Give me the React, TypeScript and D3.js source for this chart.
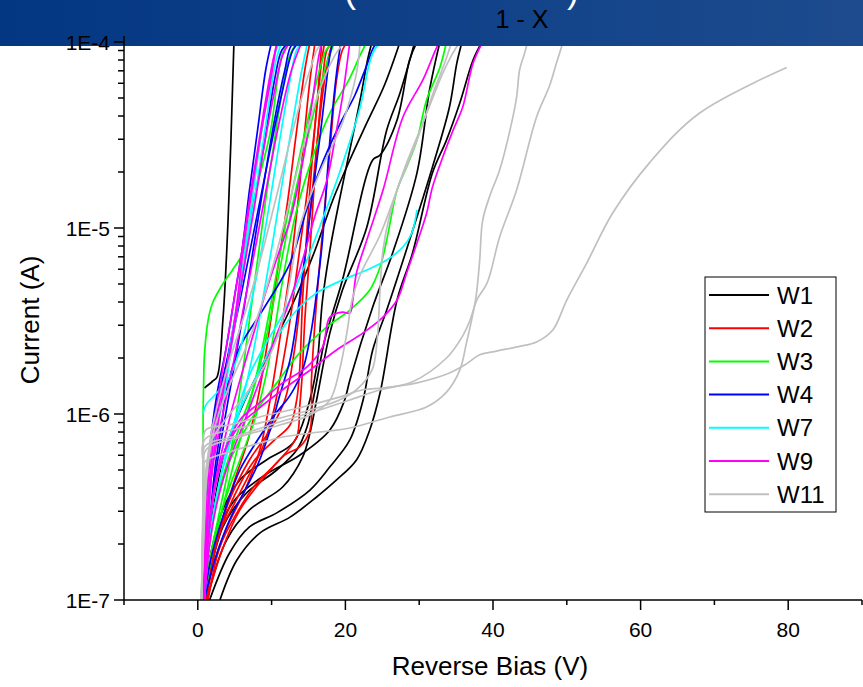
import React from "react";
import * as d3 from "d3";

type Pt = [number, number]; // [reverse bias (V), current (A)]

const waferNames = ["W1", "W2", "W3", "W4", "W7", "W9", "W11"];
const xTickValues = [0, 20, 40, 60, 80];
const yTickValues = [1e-7, 1e-6, 1e-5, 1e-4];
const yTickLabels = ["1E-7", "1E-6", "1E-5", "1E-4"];

// W1
const w1Curves: Pt[][] = [
  [[0.9, 1.38e-6], [2.0, 1.5e-6], [2.6, 1.58e-6], [3.4, 3.2e-6], [4.1, 1.1e-5], [4.9, 1e-4]],
  [[3.0, 1e-7], [5.3, 1.64e-7], [8.4, 2.29e-7], [12.5, 2.79e-7], [16.1, 3.58e-7], [18.8, 4.42e-7], [21.5, 5.66e-7], [23.3, 8.21e-7], [24.7, 1.3e-6], [27.0, 4.1e-6], [29.1, 7.34e-6], [31.8, 1.98e-5], [33.7, 2.97e-5], [35.5, 4.7e-5], [37.3, 8.0e-5], [38.5, 1e-4]],
  [[1.6, 1e-7], [4.3, 1.79e-7], [7.0, 2.47e-7], [10.7, 2.94e-7], [15.2, 3.9e-7], [17.9, 5.2e-7], [20.6, 7.25e-7], [22.4, 1.19e-6], [23.7, 2.21e-6], [25.6, 3.62e-6], [28.7, 8.62e-6], [31.8, 2.13e-5], [34.1, 4.47e-5], [35.1, 7.7e-5], [35.8, 1e-4]],
  [[1.2, 1e-7], [3.9, 2.1e-7], [7.0, 3.05e-7], [11.5, 4.05e-7], [14.2, 5.87e-7], [15.2, 7.91e-7], [16.1, 1.19e-6], [17.9, 2.73e-6], [19.6, 4.64e-6], [22.9, 1.01e-5], [25.6, 3.36e-5], [27.4, 5.32e-5], [29.4, 1e-4]],
  [[0.9, 1e-7], [3.4, 2.47e-7], [6.6, 3.76e-7], [10.7, 5.0e-7], [13.4, 6.4e-7], [14.8, 8.51e-7], [15.9, 1.35e-6], [17.2, 2.5e-6], [19.6, 5.25e-6], [23.7, 2.32e-5], [24.7, 2.47e-5], [27.0, 3.81e-5], [28.7, 8.0e-5], [29.7, 1e-4]],
  [[0.7, 1e-7], [3.0, 2.79e-7], [5.7, 4.42e-7], [9.3, 5.66e-7], [12.9, 6.98e-7], [14.8, 1.05e-6], [16.1, 1.79e-6], [16.9, 4.1e-6], [17.9, 7.62e-6], [19.2, 1.415e-5], [20.6, 2.63e-5], [22.0, 4.88e-5], [23.0, 8.0e-5], [23.6, 1e-4]],
  [[0.7, 1e-7], [2.3, 2.1e-7], [5.0, 3.45e-7], [9.1, 4.7e-7], [13.8, 6.0e-7], [17.9, 8.21e-7], [19.9, 1.19e-6], [20.6, 1.52e-6], [23.7, 3.76e-6], [26.4, 7.34e-6], [29.7, 1.98e-5], [31.4, 5.52e-5], [32.8, 1e-4]],
  [[0.7, 1e-7], [1.9, 2.69e-7], [3.7, 6.4e-7], [6.4, 1.19e-6], [9.8, 2.21e-6], [13.1, 4.1e-6], [15.9, 7.62e-6], [18.3, 1.415e-5], [20.6, 2.32e-5], [22.9, 3.67e-5], [25.3, 5.87e-5], [27.4, 1e-4]],
];

// W2
const w2Curves: Pt[][] = [
  [[0.9, 1e-7], [2.0, 1.93e-7], [4.3, 2.94e-7], [6.6, 4.42e-7], [8.8, 6.65e-7], [10.2, 1.01e-6], [11.1, 1.52e-6], [12.5, 3.2e-6], [13.8, 7.62e-6], [15.2, 2.05e-5], [16.1, 4.31e-5], [16.8, 8.0e-5], [17.2, 1e-4]],
  [[1.4, 1e-7], [3.0, 1.93e-7], [5.3, 2.94e-7], [8.0, 4.26e-7], [10.7, 5.46e-7], [13.4, 7.52e-7], [13.8, 1.09e-6], [14.1, 1.52e-6], [14.5, 3.2e-6], [15.2, 7.62e-6], [16.1, 2.63e-5], [16.8, 5.52e-5], [17.5, 9.06e-5], [18.3, 1e-4]],
  [[1.2, 1e-7], [3.3, 1.86e-7], [5.7, 3.05e-7], [8.7, 4.42e-7], [11.8, 6.03e-7], [13.8, 6.65e-7], [15.2, 8.21e-7], [15.4, 1.52e-6], [15.9, 3.2e-6], [16.8, 8.62e-6], [17.9, 2.63e-5], [18.8, 6.25e-5], [19.6, 9.06e-5], [20.3, 1e-4]],
  [[1.1, 1e-7], [2.3, 1.64e-7], [4.1, 2.53e-7], [6.4, 3.9e-7], [8.4, 6.4e-7], [9.8, 1.19e-6], [11.1, 2.5e-6], [12.5, 5.95e-6], [13.6, 1.415e-5], [14.5, 3.36e-5], [15.2, 6.25e-5], [15.9, 1e-4]],
  [[0.8, 1e-7], [1.9, 1.64e-7], [3.3, 2.69e-7], [5.0, 4.42e-7], [6.8, 7.25e-7], [8.1, 1.19e-6], [9.5, 2.5e-6], [10.8, 5.95e-6], [12.2, 1.415e-5], [13.4, 3.36e-5], [14.5, 7.07e-5], [15.2, 1e-4]],
  [[0.9, 1e-7], [2.3, 1.86e-7], [4.3, 3.45e-7], [7.0, 5.66e-7], [9.8, 8.21e-7], [11.8, 1.19e-6], [13.1, 2.21e-6], [14.2, 5.25e-6], [15.4, 1.415e-5], [16.5, 3.81e-5], [17.6, 8.0e-5], [18.3, 1e-4]],
  [[1.1, 1e-7], [2.7, 2.1e-7], [5.0, 3.67e-7], [7.7, 5.66e-7], [10.4, 7.25e-7], [12.5, 8.73e-7], [13.4, 1.19e-6], [13.8, 1.72e-6], [14.2, 4.1e-6], [14.8, 9.75e-6], [15.6, 2.63e-5], [16.3, 5.52e-5], [16.8, 1e-4]],
];

// W3
const w3Curves: Pt[][] = [
  [[0.5, 1e-7], [0.7, 3.45e-7], [0.72, 1e-6], [0.8, 1.52e-6], [0.9, 2.08e-6], [1.4, 3.2e-6], [2.0, 3.95e-6], [3.3, 4.94e-6], [4.7, 5.95e-6], [6.1, 7.34e-6], [7.0, 1.1e-5], [8.0, 1.66e-5], [9.8, 3.24e-5], [11.5, 8.7e-5], [12.5, 1e-4]],
  [[0.8, 1e-7], [1.6, 2.1e-7], [3.3, 4.42e-7], [5.7, 7.25e-7], [8.0, 1.05e-6], [10.7, 1.47e-6], [13.8, 2.13e-6], [17.5, 2.94e-6], [20.6, 3.62e-6], [23.3, 4.64e-6], [24.7, 6.17e-6], [25.6, 8.62e-6], [27.0, 1.6e-5], [28.3, 2.13e-5], [29.7, 2.97e-5], [31.0, 4.88e-5], [32.8, 7.3e-5], [33.7, 1e-4]],
  [[0.9, 1e-7], [2.0, 1.86e-7], [3.7, 3.45e-7], [5.7, 5.66e-7], [7.7, 9.29e-7], [9.1, 1.52e-6], [10.4, 2.83e-6], [11.5, 5.25e-6], [13.4, 1.25e-5], [15.9, 2.63e-5], [17.9, 4.15e-5], [20.6, 6.4e-5], [22.0, 8.5e-5], [22.9, 1e-4]],
  [[0.8, 1e-7], [1.6, 1.64e-7], [2.7, 2.69e-7], [4.1, 5.0e-7], [5.1, 9.29e-7], [6.1, 1.72e-6], [7.0, 3.2e-6], [8.1, 6.73e-6], [9.2, 1.415e-5], [10.4, 2.97e-5], [11.7, 6.25e-5], [12.5, 8.5e-5], [13.4, 1e-4]],
  [[0.9, 1e-7], [1.9, 1.75e-7], [3.3, 3.05e-7], [5.0, 5.66e-7], [6.8, 1.05e-6], [8.4, 1.95e-6], [10.0, 4.1e-6], [11.5, 8.62e-6], [13.1, 1.81e-5], [14.9, 3.81e-5], [16.5, 7.07e-5], [17.6, 9.3e-5], [19.2, 1e-4]],
  [[0.8, 1e-7], [1.5, 1.86e-7], [2.6, 3.45e-7], [4.1, 5.66e-7], [6.0, 9.29e-7], [7.9, 1.52e-6], [9.5, 2.83e-6], [11.1, 5.95e-6], [12.7, 1.25e-5], [14.5, 2.63e-5], [16.3, 5.19e-5], [17.6, 8.0e-5], [18.6, 1e-4]],
];

// W4
const w4Curves: Pt[][] = [
  [[0.7, 1e-7], [1.4, 2.1e-7], [2.3, 5.0e-7], [3.3, 9.29e-7], [3.9, 1.35e-6], [5.7, 2.29e-6], [8.8, 3.62e-6], [12.5, 6.48e-6], [14.5, 1.17e-5], [16.5, 2.05e-5], [19.2, 3.58e-5], [21.3, 5.19e-5], [22.9, 7.5e-5], [24.0, 9.6e-5], [24.9, 1e-4]],
  [[0.7, 1e-7], [1.2, 2.1e-7], [1.9, 5.0e-7], [2.7, 1.05e-6], [3.7, 1.72e-6], [5.0, 3.2e-6], [6.4, 6.73e-6], [7.7, 1.415e-5], [9.1, 2.97e-5], [10.4, 6.25e-5], [11.4, 9.06e-5], [12.5, 1e-4]],
  [[0.8, 1e-7], [1.5, 2.1e-7], [2.3, 4.42e-7], [3.4, 8.21e-7], [4.6, 1.52e-6], [6.0, 3.2e-6], [7.5, 7.62e-6], [8.8, 1.6e-5], [10.4, 3.81e-5], [11.8, 7.07e-5], [12.7, 9.6e-5], [13.8, 1e-4]],
  [[0.7, 1.64e-7], [1.1, 3.45e-7], [1.8, 7.25e-7], [2.7, 1.19e-6], [4.3, 2.21e-6], [6.0, 4.64e-6], [7.9, 1.1e-5], [9.8, 2.63e-5], [11.5, 5.52e-5], [12.9, 9.06e-5], [13.8, 1e-4]],
  [[0.9, 1e-7], [2.3, 1.64e-7], [4.3, 2.69e-7], [6.4, 3.9e-7], [8.1, 5.32e-7], [9.8, 8.21e-7], [11.1, 1.26e-6], [12.5, 1.95e-6], [13.4, 3.2e-6], [14.1, 5.25e-6], [14.8, 8.62e-6], [15.6, 1.6e-5], [16.5, 2.97e-5], [17.3, 5.52e-5], [17.9, 8.5e-5], [18.3, 1e-4]],
  [[0.8, 1e-7], [1.9, 1.75e-7], [3.7, 3.05e-7], [5.7, 5.0e-7], [8.1, 7.25e-7], [10.4, 9.88e-7], [12.5, 1.26e-6], [14.2, 1.72e-6], [15.4, 2.83e-6], [16.3, 5.25e-6], [16.9, 8.62e-6], [17.9, 2.97e-5], [18.8, 6.8e-5], [19.4, 1e-4]],
  [[0.7, 1e-7], [0.9, 2.38e-7], [1.4, 5.0e-7], [1.9, 8.21e-7], [2.7, 1.35e-6], [3.8, 2.21e-6], [4.9, 4.1e-6], [6.0, 7.62e-6], [7.0, 1.6e-5], [8.1, 3.36e-5], [9.2, 7.07e-5], [10.0, 1e-4]],
];

// W7
const w7Curves: Pt[][] = [
  [[0.8, 1e-7], [1.4, 2.1e-7], [2.3, 3.9e-7], [3.7, 6.4e-7], [5.7, 1.05e-6], [7.7, 1.52e-6], [9.8, 2.21e-6], [11.8, 3.01e-6], [13.8, 3.76e-6], [16.1, 4.48e-6], [19.6, 5.25e-6], [22.9, 5.95e-6], [25.6, 6.73e-6], [27.8, 7.9e-6], [29.0, 9.4e-6], [29.7, 1.25e-5]],
  [[0.8, 1e-7], [1.6, 2.1e-7], [3.0, 4.42e-7], [5.0, 9.29e-7], [7.0, 1.62e-6], [9.1, 2.35e-6], [11.1, 3.2e-6], [13.1, 4.64e-6], [14.9, 6.9e-6], [16.5, 1.01e-5], [19.2, 1.98e-5], [22.0, 4.47e-5], [23.3, 7.8e-5], [24.1, 9.3e-5], [25.3, 1e-4]],
  [[0.7, 1e-6], [1.1, 1.12e-6], [2.6, 1.3e-6], [4.3, 1.58e-6], [5.7, 2.21e-6], [7.0, 3.62e-6], [8.4, 6.73e-6], [9.8, 1.415e-5], [11.1, 2.97e-5], [12.5, 6.25e-5], [13.4, 9.06e-5], [14.2, 1e-4]],
  [[0.8, 1e-7], [1.2, 2.1e-7], [1.8, 4.42e-7], [2.6, 8.21e-7], [3.7, 1.35e-6], [4.7, 2.5e-6], [5.8, 4.64e-6], [7.0, 9.75e-6], [8.3, 2.05e-5], [9.5, 4.31e-5], [10.6, 8.0e-5], [11.4, 1e-4]],
  [[0.7, 1e-7], [1.1, 2.1e-7], [1.6, 4.42e-7], [2.3, 7.25e-7], [3.3, 1.19e-6], [4.3, 2.21e-6], [5.6, 4.64e-6], [6.8, 9.75e-6], [8.1, 2.32e-5], [9.3, 4.88e-5], [10.4, 8.5e-5], [11.1, 1e-4]],
  [[0.9, 1e-7], [1.6, 2.1e-7], [2.7, 3.9e-7], [4.1, 6.4e-7], [5.7, 1.05e-6], [7.3, 1.95e-6], [8.8, 4.1e-6], [10.2, 8.62e-6], [11.5, 1.81e-5], [12.9, 3.81e-5], [14.1, 7.07e-5], [14.9, 1e-4]],
];

// W9
const w9Curves: Pt[][] = [
  [[0.7, 1e-7], [1.1, 2.1e-7], [1.6, 4.42e-7], [2.3, 8.21e-7], [3.3, 1.35e-6], [4.3, 2.13e-6], [5.3, 3.95e-6], [6.1, 7.34e-6], [7.0, 1.3e-5], [8.4, 2.97e-5], [9.8, 6.0e-5], [10.7, 1e-4]],
  [[0.8, 1e-7], [1.4, 2.1e-7], [2.3, 3.9e-7], [3.7, 6.4e-7], [5.7, 9.29e-7], [8.4, 1.15e-6], [11.5, 1.47e-6], [14.8, 1.79e-6], [16.9, 2.29e-6], [17.9, 3.32e-6], [19.6, 3.53e-6], [20.6, 3.49e-6], [21.0, 4.1e-6], [21.5, 5.73e-6], [22.9, 8.62e-6], [25.1, 1.6e-5], [27.8, 3.95e-5], [30.5, 6.25e-5], [32.4, 9.4e-5], [32.8, 1e-4]],
  [[0.8, 1e-7], [1.4, 2.1e-7], [2.2, 3.9e-7], [3.7, 6.4e-7], [5.7, 8.73e-7], [8.0, 1.05e-6], [11.5, 1.35e-6], [15.2, 1.72e-6], [18.8, 2.21e-6], [22.4, 2.73e-6], [25.1, 3.32e-6], [27.0, 4.1e-6], [28.3, 5.73e-6], [29.7, 8.3e-6], [31.0, 1.2e-5], [31.8, 1.66e-5], [33.2, 2.41e-5], [34.6, 3.36e-5], [35.9, 4.47e-5], [37.3, 7.7e-5], [38.6, 1e-4]],
  [[0.9, 1e-7], [1.6, 1.98e-7], [2.7, 3.45e-7], [4.3, 5.66e-7], [6.4, 9.29e-7], [8.4, 1.52e-6], [10.4, 2.5e-6], [12.5, 4.1e-6], [14.2, 6.73e-6], [15.9, 1.17e-5], [17.5, 1.81e-5], [18.8, 3.36e-5], [19.6, 5.06e-5], [20.2, 7.5e-5], [20.6, 1e-4]],
  [[0.7, 1e-7], [0.9, 2.1e-7], [1.4, 4.42e-7], [1.9, 7.25e-7], [2.7, 1.19e-6], [3.8, 2.21e-6], [4.9, 4.1e-6], [6.0, 7.62e-6], [7.0, 1.415e-5], [8.1, 2.63e-5], [9.2, 4.88e-5], [10.2, 8.0e-5], [10.8, 1e-4]],
  [[0.8, 1e-7], [1.2, 2.1e-7], [1.8, 4.42e-7], [2.6, 8.21e-7], [3.7, 1.52e-6], [4.9, 2.83e-6], [6.2, 5.95e-6], [7.6, 1.25e-5], [8.9, 2.63e-5], [10.3, 5.19e-5], [11.5, 8.5e-5], [12.5, 1e-4]],
  [[0.7, 1e-7], [1.1, 2.1e-7], [1.6, 3.9e-7], [2.4, 6.4e-7], [3.5, 1.05e-6], [4.9, 1.95e-6], [6.4, 4.1e-6], [8.0, 8.62e-6], [9.5, 1.81e-5], [11.1, 3.81e-5], [12.7, 7.07e-5], [14.1, 1e-4]],
  [[0.8, 1e-7], [1.4, 2.1e-7], [2.2, 3.9e-7], [3.3, 6.4e-7], [4.6, 1.05e-6], [6.1, 1.72e-6], [7.7, 2.83e-6], [9.3, 4.64e-6], [11.1, 7.62e-6], [12.5, 1.1e-5], [14.2, 2.24e-5], [15.6, 5.06e-5], [16.3, 8.0e-5], [16.8, 1e-4]],
];

// W11
const w11Curves: Pt[][] = [
  [[0.5, 1e-7], [0.7, 2.69e-7], [0.8, 5.66e-7], [1.1, 8.21e-7], [4.3, 8.73e-7], [8.4, 9.64e-7], [13.8, 1.08e-6], [18.8, 1.22e-6], [22.4, 1.35e-6], [25.1, 1.38e-6], [29.7, 1.47e-6], [34.1, 1.66e-6], [36.4, 1.86e-6], [38.2, 2.08e-6], [40.5, 2.18e-6], [43.6, 2.31e-6], [45.9, 2.44e-6], [48.1, 2.83e-6], [50.0, 4.1e-6], [52.7, 6.48e-6], [56.2, 1.2e-5], [61.2, 2.24e-5], [68.0, 4.15e-5], [79.8, 7.3e-5]],
  [[0.5, 1e-7], [0.7, 2.1e-7], [0.8, 4.42e-7], [0.9, 5.52e-7], [4.3, 6.25e-7], [8.4, 6.98e-7], [11.5, 7.52e-7], [16.5, 8.0e-7], [20.6, 8.41e-7], [26.0, 9.64e-7], [31.0, 1.09e-6], [33.7, 1.31e-6], [35.5, 1.72e-6], [36.4, 2.41e-6], [37.1, 3.2e-6], [37.7, 4.26e-6], [38.2, 6.73e-6], [38.6, 1.1e-5], [39.6, 1.5e-5], [40.9, 2.05e-5], [42.3, 3.36e-5], [43.2, 5.06e-5], [43.6, 7.07e-5], [44.2, 8.5e-5], [44.7, 1e-4]],
  [[0.5, 1e-7], [0.7, 2.69e-7], [0.8, 5.0e-7], [0.9, 6.65e-7], [5.7, 7.71e-7], [11.1, 9.06e-7], [16.5, 1.05e-6], [20.6, 1.19e-6], [24.7, 1.35e-6], [29.1, 1.49e-6], [33.7, 2.0e-6], [35.8, 2.59e-6], [36.9, 3.2e-6], [37.8, 4.1e-6], [39.2, 5.06e-6], [40.9, 8.95e-6], [43.2, 1.6e-5], [45.9, 3.95e-5], [47.7, 5.87e-5], [48.6, 7.7e-5], [49.5, 1e-4]],
  [[0.5, 1e-7], [0.7, 2.69e-7], [0.8, 5.0e-7], [0.9, 7.25e-7], [5.7, 8.41e-7], [11.1, 9.51e-7], [15.2, 1.05e-6], [19.2, 1.19e-6], [21.5, 1.35e-6], [23.6, 1.72e-6], [24.3, 2.5e-6], [24.7, 4.64e-6], [25.1, 7.62e-6], [26.0, 1.17e-5], [27.8, 1.98e-5], [30.5, 3.67e-5], [33.2, 6.8e-5], [34.4, 8.5e-5], [35.5, 1e-4]],
  [[0.5, 1e-7], [0.7, 2.1e-7], [0.8, 4.42e-7], [1.1, 6.4e-7], [5.7, 7.52e-7], [11.1, 8.73e-7], [15.2, 9.88e-7], [17.9, 1.19e-6], [19.2, 1.72e-6], [20.2, 2.73e-6], [20.9, 4.1e-6], [22.0, 5.59e-6], [24.7, 9.17e-6], [27.0, 1.6e-5], [29.7, 2.97e-5], [31.8, 5.19e-5], [33.5, 7.8e-5], [34.4, 1e-4]],
  [[0.5, 1e-7], [0.8, 2.1e-7], [1.2, 4.42e-7], [1.9, 7.25e-7], [3.0, 1.05e-6], [4.6, 1.52e-6], [6.4, 2.21e-6], [8.4, 3.62e-6], [10.4, 6.73e-6], [12.5, 1.415e-5], [14.5, 2.97e-5], [16.5, 5.52e-5], [18.6, 8.5e-5], [19.9, 1e-4]],
  [[0.5, 1e-7], [0.8, 2.38e-7], [1.2, 5.0e-7], [1.9, 8.21e-7], [3.0, 1.26e-6], [4.3, 1.95e-6], [6.1, 3.2e-6], [8.1, 5.95e-6], [10.2, 1.25e-5], [12.2, 2.63e-5], [13.8, 4.58e-5], [15.2, 7.07e-5], [16.3, 9.3e-5], [17.2, 1e-4]],
  [[0.5, 1e-7], [0.8, 2.69e-7], [1.1, 5.0e-7], [1.9, 7.25e-7], [3.7, 9.29e-7], [6.4, 1.26e-6], [9.1, 1.83e-6], [11.1, 2.83e-6], [12.5, 5.25e-6], [13.8, 1.01e-5], [16.5, 1.98e-5], [19.6, 3.67e-5], [21.5, 6.8e-5], [22.0, 1e-4]],
];

const seriesData = [w1Curves, w2Curves, w3Curves, w4Curves, w7Curves, w9Curves, w11Curves];
const seriesColors = ["#000000", "#ff0000", "#00ff00", "#0000ff", "#00ffff", "#ff00ff", "#c0c0c0"];

const FONT = "'Liberation Sans', Arial, sans-serif";

export default function App() {
  const width = 863;
  const height = 687;
  const plot = { left: 124, right: 862, top: 42, bottom: 600 };

  const x = d3.scaleLinear().domain([-10, 90]).range([plot.left, plot.right]);
  const y = d3.scaleLog().domain([1e-7, 1e-4]).range([plot.bottom, plot.top]);

  const line = d3
    .line<Pt>()
    .x((d) => x(d[0]))
    .y((d) => y(d[1]))
    .curve(d3.curveCatmullRom.alpha(0.5));

  const yMinor = y.ticks().filter((v) => !yTickValues.some((t) => Math.abs(t - v) / t < 1e-6));
  const xMinor = x.ticks(10).filter((v) => !xTickValues.includes(v));

  const legend = { x: 705, y: 277, w: 131, h: 235, row: 33.2 };

  return (
    <svg
      width={width}
      height={height}
      style={{ position: "absolute", left: 0, top: 0, background: "#fff" }}
      fontFamily={FONT}
    >
      <defs>
        <clipPath id="plotClip">
          <rect x={plot.left} y={plot.top} width={plot.right - plot.left} height={plot.bottom - plot.top} />
        </clipPath>
        <linearGradient id="banner" x1="0" x2="1" y1="0" y2="0">
          <stop offset="0%" stopColor="#033782" />
          <stop offset="100%" stopColor="#1d4b8e" />
        </linearGradient>
      </defs>

      <rect width={width} height={height} fill="#fff" />

      <g clipPath="url(#plotClip)" fill="none">
        {seriesData.map((curves, si) =>
          curves.map((c, ci) => (
            <path key={`${si}-${ci}`} d={line(c) || ""} stroke={seriesColors[si]} strokeWidth={1.7} />
          ))
        )}
      </g>

      {/* slide banner over the top of the plot */}
      <rect x={0} y={0} width={width} height={46} fill="url(#banner)" />
      <text x={350} y={2} fill="#fff" fontSize={36} textAnchor="middle">(</text>
      <text x={573} y={2} fill="#fff" fontSize={36} textAnchor="middle">)</text>
      <text x={522} y={28} fill="#000" fontSize={25} textAnchor="middle">1 - X</text>

      {/* y axis */}
      <g stroke="#000" strokeWidth={1.5}>
        <line x1={plot.left} x2={plot.left} y1={36} y2={plot.bottom} />
        {yTickValues.map((t) => (
          <line key={t} x1={plot.left - 10} x2={plot.left} y1={y(t)} y2={y(t)} />
        ))}
        {yMinor.map((t) => (
          <line key={t} x1={plot.left - 6} x2={plot.left} y1={y(t)} y2={y(t)} />
        ))}
      </g>
      {yTickValues.map((t, i) => (
        <text key={t} x={plot.left - 14} y={y(t)} dy="0.36em" fontSize={21} textAnchor="end" fill="#000">
          {yTickLabels[i]}
        </text>
      ))}

      {/* x axis */}
      <g stroke="#000" strokeWidth={1.5}>
        <line x1={plot.left} x2={plot.right} y1={plot.bottom} y2={plot.bottom} />
        {xTickValues.map((t) => (
          <line key={t} x1={x(t)} x2={x(t)} y1={plot.bottom} y2={plot.bottom + 10} />
        ))}
        {xMinor.map((t) => (
          <line key={t} x1={x(t)} x2={x(t)} y1={plot.bottom} y2={plot.bottom + 5} />
        ))}
      </g>
      {xTickValues.map((t) => (
        <text key={t} x={x(t)} y={637} fontSize={21} textAnchor="middle" fill="#000">
          {t}
        </text>
      ))}

      <text x={490} y={675} fontSize={26} textAnchor="middle" fill="#000">Reverse Bias (V)</text>
      <text transform="translate(39,320) rotate(-90)" fontSize={26} textAnchor="middle" fill="#000">Current (A)</text>

      {/* legend */}
      <rect x={legend.x} y={legend.y} width={legend.w} height={legend.h} fill="#fff" stroke="#000" strokeWidth={1} />
      {waferNames.map((name, i) => {
        const ry = legend.y + 18 + i * legend.row;
        return (
          <g key={name}>
            <line x1={legend.x + 4} x2={legend.x + 64} y1={ry} y2={ry} stroke={seriesColors[i]} strokeWidth={2} />
            <text x={legend.x + 72} y={ry} dy="0.36em" fontSize={24} fill="#000">{name}</text>
          </g>
        );
      })}
    </svg>
  );
}
